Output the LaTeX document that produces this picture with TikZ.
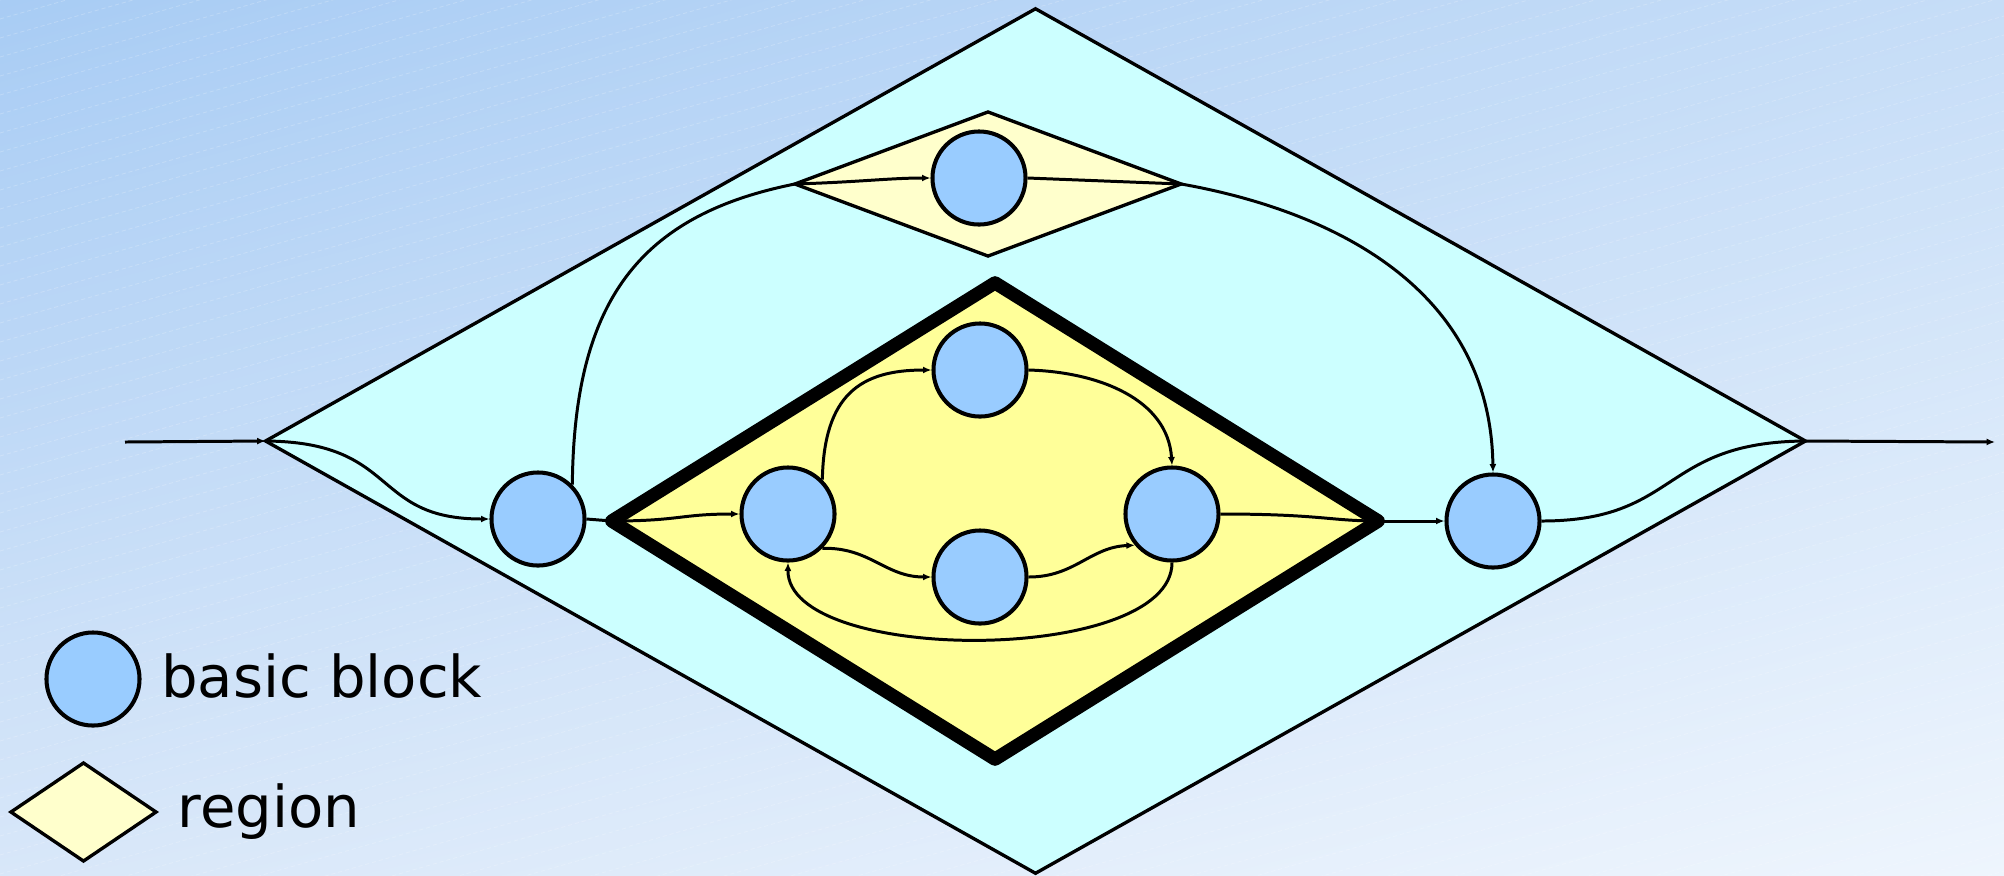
\documentclass[tikz,border=0pt]{standalone}
\usepackage{fontspec}
\setmainfont{DejaVu Sans}
\usetikzlibrary{positioning,shapes.geometric,arrows.meta,shadings}
\definecolor{bbblue}{HTML}{99CCFF}
\definecolor{rgcyan}{HTML}{CCFFFF}
\definecolor{rgpale}{HTML}{FFFFCC}
\definecolor{rgyellow}{HTML}{FFFF99}
\definecolor{bgtl}{HTML}{A8CCF4}
\definecolor{bgtr}{HTML}{C6DDF7}
\definecolor{bgbl}{HTML}{D8E7F9}
\definecolor{bgbr}{HTML}{EEF5FD}

\begin{document}
\begin{tikzpicture}[x=0.01cm,y=-0.01cm,
  edge/.style={line width=0.85pt},
  arr/.style={edge,-{Latex[length=2.4pt,width=2pt]}}]
\tikzstyle{bb}=[circle,draw,fill=bbblue,line width=1.15pt,minimum size=0.93cm,inner sep=0pt]
\tikzstyle{rgn}=[diamond,draw,line width=0.95pt,inner sep=0pt,outer sep=0pt]
\tikzstyle{lbl}=[inner sep=0pt,font=\fontsize{16.4}{20}\selectfont]
\useasboundingbox (0,0) rectangle (2004,875);
\shade[upper left=bgtl,upper right=bgtr,lower left=bgbl,lower right=bgbr] (0,0) rectangle (2004,875);
\begin{scope}
\clip (0,0) rectangle (2004,875);
\foreach \c in {0,19,...,1460}
  \draw[white,opacity=0.2,line width=0.25pt,dash pattern=on 1.2pt off 0.8pt] (0,\c) -- (2004,\c-573);
\end{scope}

\node[rgn,fill=rgcyan,minimum width=15.39cm,minimum height=8.64cm] (R) at (1035.5,441) {};
\node[rgn,fill=rgpale,minimum width=3.86cm,minimum height=1.44cm] (S) at (988,184) {};
\node[rgn,fill=rgyellow,line width=3.8pt,line join=round,minimum width=7.66cm,minimum height=4.76cm] (T) at (995,521) {};

\node[bb] (q) at (979,178) {};
\node[bb] (p) at (538,519) {};
\node[bb] (a) at (788,514) {};
\node[bb] (b) at (980,370) {};
\node[bb] (c) at (980,577) {};
\node[bb] (d) at (1172,514) {};
\node[bb] (r) at (1493,521) {};
\coordinate (in) at (125,442);
\coordinate (out) at (1995,442);

\draw[arr] (in) -- (R.west);
\draw[arr] (R.west) .. controls (400,442) and (370,519) .. (p.west);
\draw[edge] (p.east) -- (T.west);
\draw[arr] (T.west) .. controls (680,521) and (680,514) .. (a.west);
\draw[arr] (a.45) .. controls (824,395) and (860,370) .. (b.west);
\draw[arr] (b.east) .. controls (1100,372) and (1168,400) .. (d.north);
\draw[arr] (a.-45) .. controls (870,547) and (885,577) .. (c.west);
\draw[arr] (c.east) .. controls (1075,577) and (1090,547) .. (d.-140);
\draw[arr] (d.south) .. controls (1172,665) and (787,665) .. (a.south);
\draw[edge] (d.east) .. controls (1320,514) and (1330,521) .. (T.east);
\draw[arr] (T.east) -- (r.west);
\draw[edge] (r.east) .. controls (1680,521) and (1660,442) .. (R.east);
\draw[arr] (R.east) -- (out);
\draw[edge] (p.45) .. controls (574,300) and (640,215) .. (S.west);
\draw[arr] (S.west) .. controls (860,182) and (890,178) .. (q.west);
\draw[edge] (q.east) -- (S.east);
\draw[arr] (S.east) .. controls (1300,205) and (1490,270) .. (r.north);

\node[bb] (lb) at (93,679) {};
\node[lbl,right=0.19cm of lb,yshift=1pt] (lbt) {basic block};
\node[rgn,fill=rgpale,minimum width=1.45cm,minimum height=0.98cm] (lr) at (83.5,812) {};
\node[lbl,right=0.21cm of lr] (lrt) {region};
\end{tikzpicture}
\end{document}
